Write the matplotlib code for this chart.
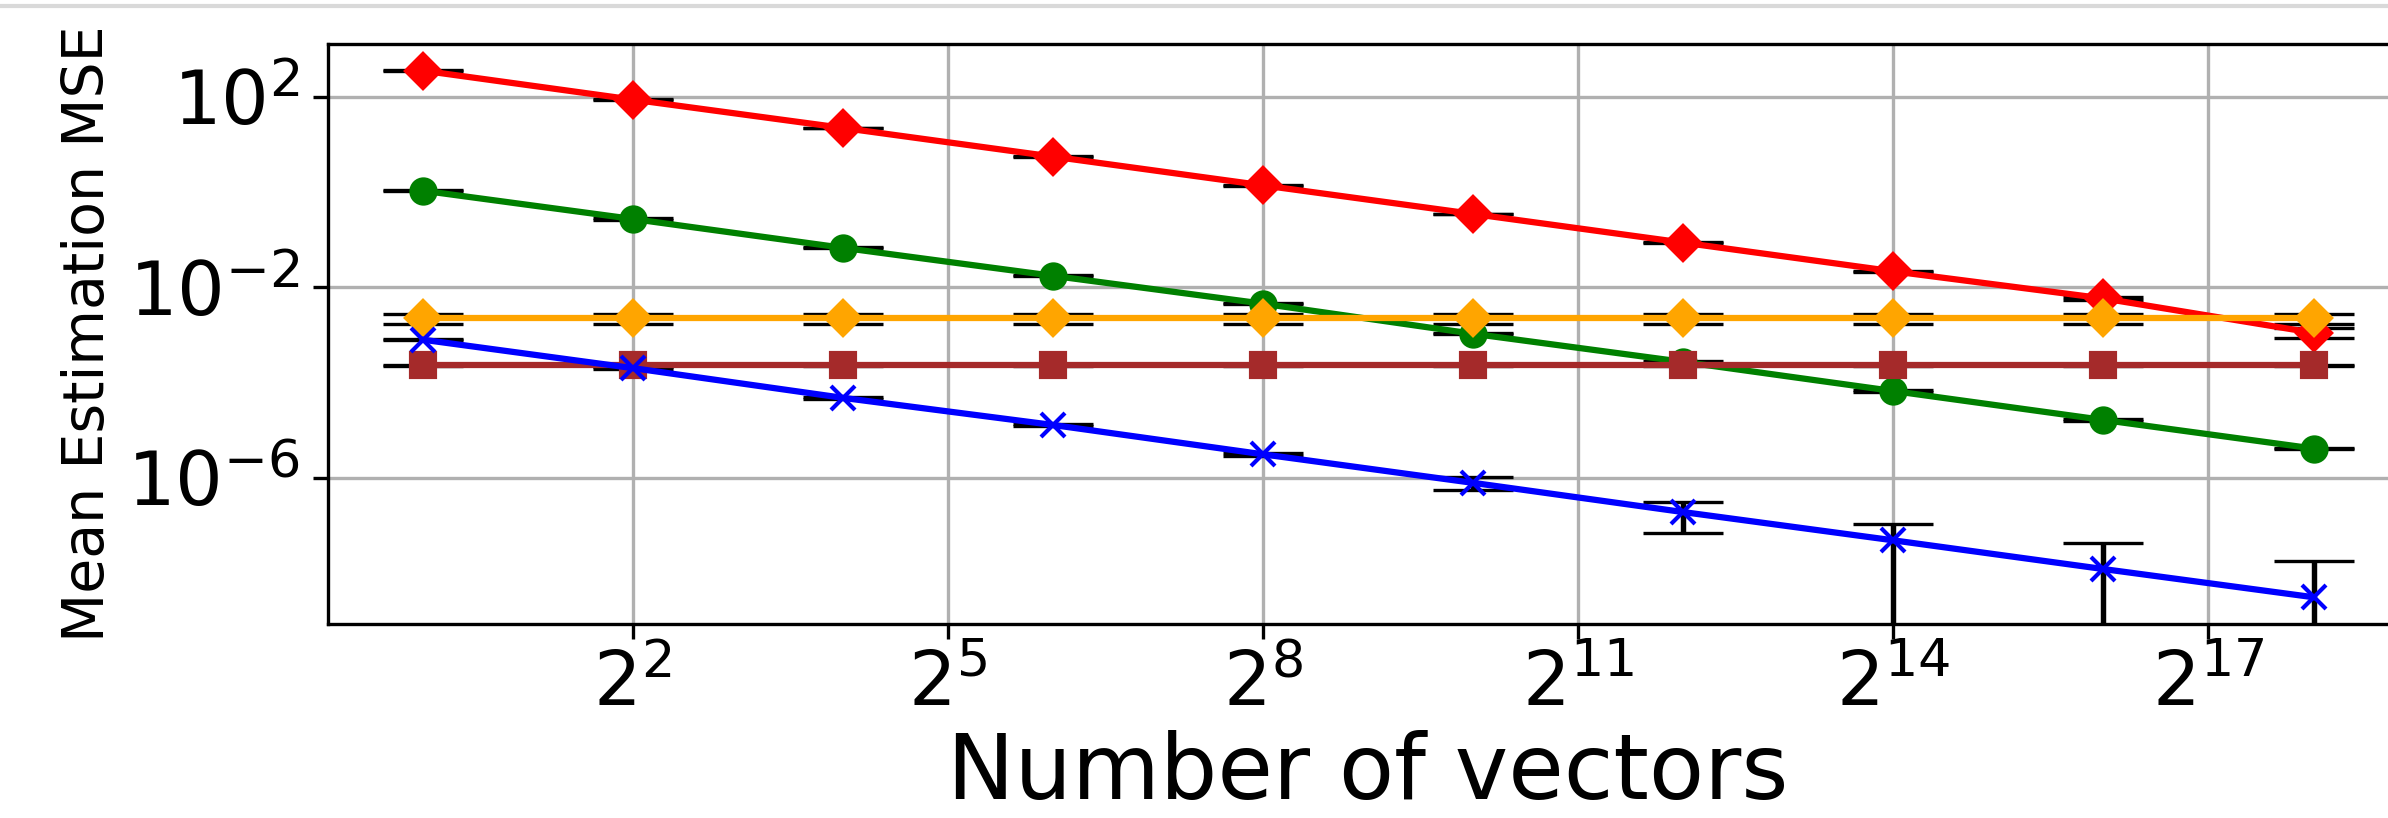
import numpy as np
import matplotlib
matplotlib.use("Agg")
import matplotlib.pyplot as plt
from matplotlib.ticker import NullLocator
from matplotlib.lines import Line2D

# number of vectors (powers of two)
n_vectors = [2**0, 2**2, 2**4, 2**6, 2**8, 2**10, 2**12, 2**14, 2**16, 2**18]

# mean MSE per method
red_mse    = [351, 86.5, 22.0, 5.5, 1.37, 0.344, 0.086, 0.0215, 0.0058, 0.0011]
red_std    = [7.0, 1.7, 0.44, 0.11, 0.03, 0.007, 0.002, 0.0005, 0.0003, 0.00026]
green_mse  = [1.06, 0.27, 0.067, 0.0173, 0.0045, 0.00105, 2.7e-4, 6.6e-5, 1.63e-5, 4.1e-6]
green_std  = [0.03, 0.008, 0.002, 5e-4, 1.5e-4, 3e-5, 8e-6, 2e-6, 5e-7, 1.2e-7]
orange_mse = [2.24e-3] * 10
orange_std = [5.5e-4] * 10
brown_mse  = [2.3e-4] * 10
brown_std  = [5e-6] * 10
blue_mse   = [7.9e-4, 2.0e-4, 4.75e-5, 1.28e-5, 3.1e-6, 7.8e-7, 1.9e-7, 4.85e-8, 1.21e-8, 3.1e-9]
blue_std   = [2e-5, 6e-6, 2e-6, 6e-7, 2.5e-7, 2.4e-7, 1.2e-7, 5.9e-8, 3.05e-8, 1.45e-8]

series = [
    (red_mse, red_std, "red", "D"),
    (green_mse, green_std, "green", "o"),
    (brown_mse, brown_std, "brown", "s"),
    (orange_mse, orange_std, "orange", "D"),
    (blue_mse, blue_std, "blue", "x"),
]

fig = plt.figure(figsize=(2388 / 300, 818 / 300), dpi=300)
ax = fig.add_axes([0.1374, 0.2372, 0.871, 0.709])

for mse, std, color, marker in series:
    ax.errorbar(n_vectors, mse, yerr=std, fmt="none", ecolor="black",
                elinewidth=1.3, capsize=9.5, capthick=0.8, zorder=1.8)
for mse, std, color, marker in series:
    ax.plot(n_vectors, mse, color=color, marker=marker, lw=1.5, ms=5.8, zorder=2.5)

ax.set_xscale("log", base=2)
ax.set_yscale("log")
ax.set_xlim(2**-0.9, 2**18.9)
ax.set_ylim(10**-9.07, 10**3.104)
ax.set_xticks([2**2, 2**5, 2**8, 2**11, 2**14, 2**17])
ax.set_yticks([1e2, 1e-2, 1e-6])
ax.xaxis.set_minor_locator(NullLocator())
ax.yaxis.set_minor_locator(NullLocator())
ax.tick_params(axis="x", labelsize=18, pad=2.5)
ax.tick_params(axis="y", labelsize=18)
ax.grid(True)

ax.set_xlabel("Number of vectors", fontsize=21.7, labelpad=2)
ax.set_ylabel("Mean Estimation MSE", fontsize=13.7, labelpad=2.5)

# faint rule along the top edge of the image
fig.add_artist(Line2D([0, 1], [1 - 6 / 818, 1 - 6 / 818], color="#d9d9d9", lw=1.0,
                      transform=fig.transFigure))

fig.savefig("out.png", dpi=300)
